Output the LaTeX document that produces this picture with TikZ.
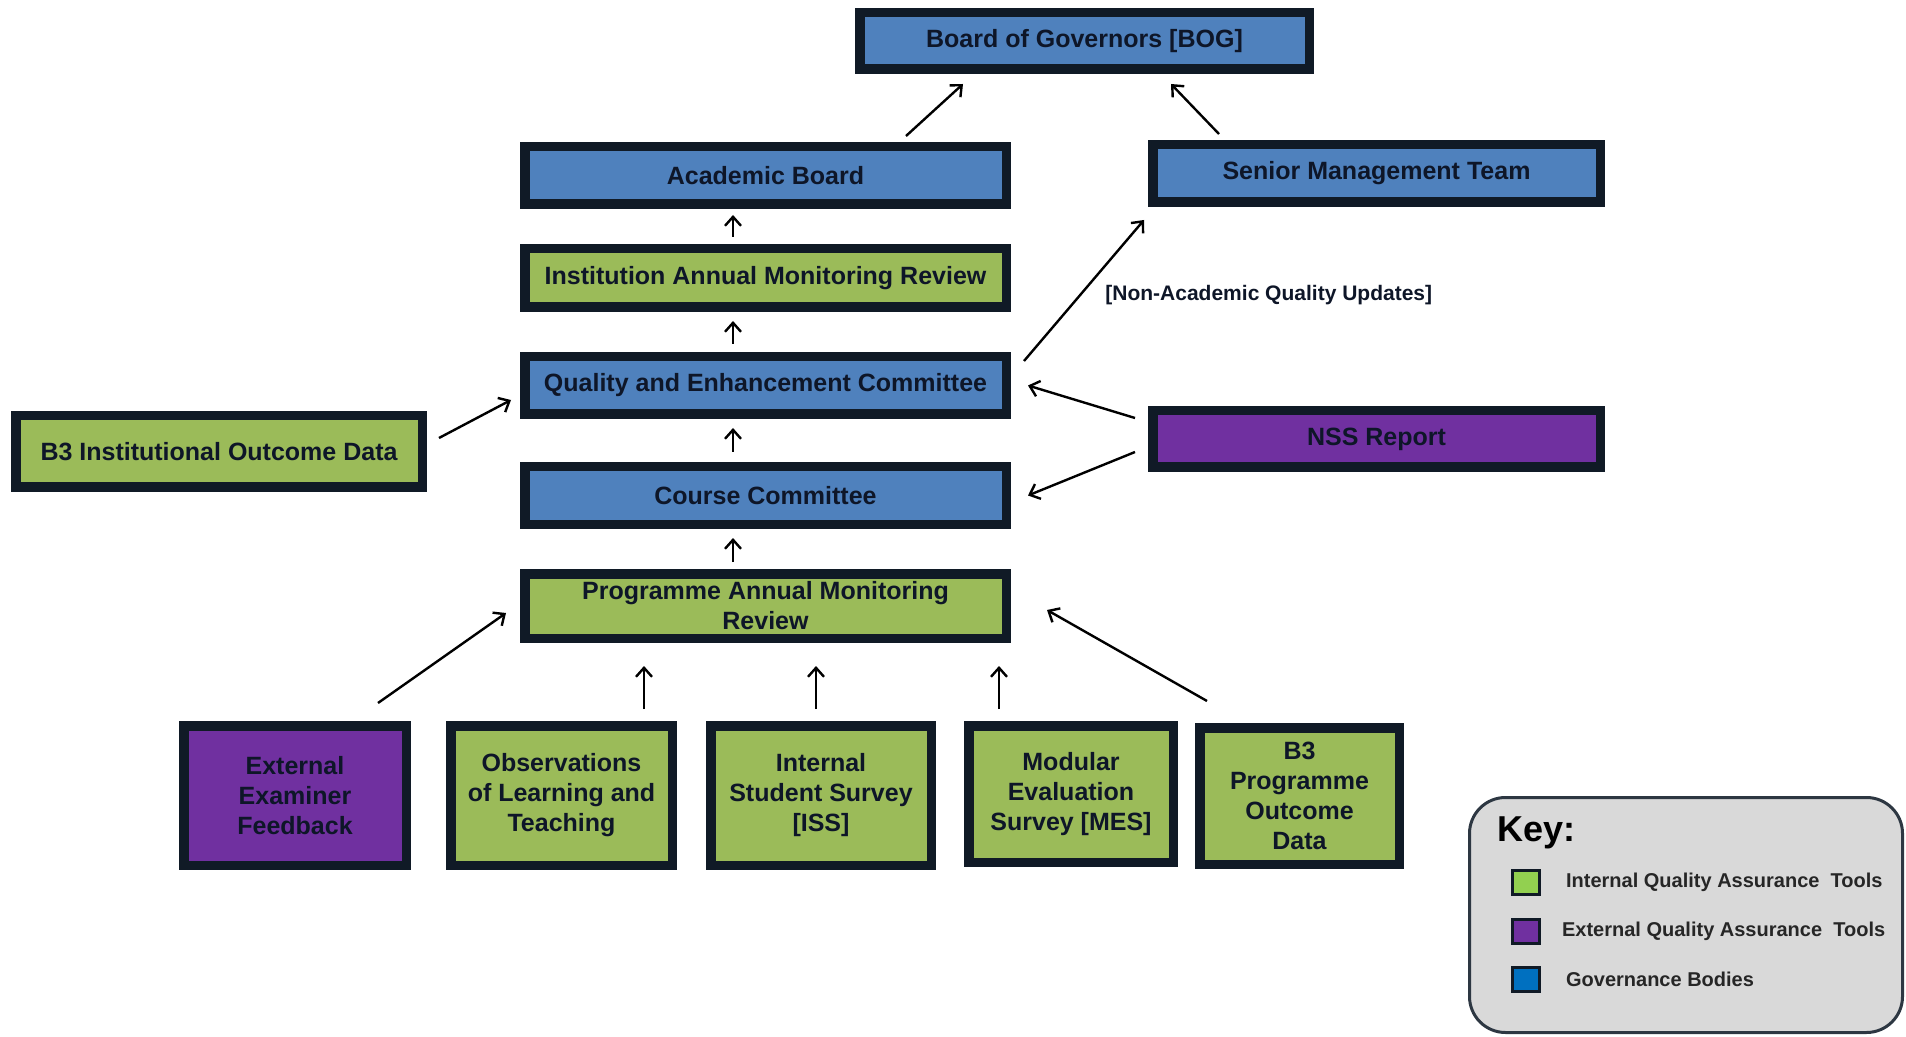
\documentclass[tikz,border=0pt]{standalone}
\usepackage{fontspec}
\setmainfont{Liberation Sans}
\usepackage{tikz}
\usetikzlibrary{arrows.meta}
\usetikzlibrary{positioning}
\usepackage{xcolor}
\definecolor{GovBlue}{RGB}{79,129,189}
\definecolor{IntGreen}{RGB}{155,187,89}
\definecolor{ExtPurple}{RGB}{112,48,160}
\definecolor{EdgeDark}{RGB}{16,26,38}
\definecolor{InkNavy}{RGB}{14,22,40}
\definecolor{KeyGrey}{RGB}{217,217,217}
\definecolor{KeyEdge}{RGB}{45,55,66}
\definecolor{KeyGreen}{RGB}{146,208,80}
\definecolor{KeyBlue}{RGB}{0,112,192}
\tikzset{
	>={Straight Barb[length=4.5pt,width=8pt]},
	flow/.style={black, line width=1.2pt, ->},
	wh/.style 2 args={minimum width=#1pt, minimum height=#2pt},
	box/.style={rectangle, draw=EdgeDark, line width=4.75pt, inner sep=2pt, align=center,
		text=InkNavy, font=\fontsize{12.5}{15}\selectfont\bfseries},
	govbox/.style={box, fill=GovBlue},
	inttool/.style={box, fill=IntGreen},
	exttool/.style={box, fill=ExtPurple},
	note/.style={text=InkNavy, inner sep=0pt, font=\fontsize{10.5}{12}\selectfont\bfseries},
	keyframe/.style={draw=KeyEdge, fill=KeyGrey, line width=1.5pt, rounded corners=18pt},
	swatch/.style={draw=EdgeDark, line width=1.2pt, minimum width=13.5pt, minimum height=12pt, inner sep=0pt},
	keytext/.style={text=black!85, inner sep=0pt, font=\fontsize{10}{12}\selectfont\bfseries},
}

\begin{document}
\begin{tikzpicture}[x=0.5pt, y=-0.5pt]
	\useasboundingbox (0,0) rectangle (1906,1037);
	
	% Governance bodies
	\node[govbox, wh={224.75}{28.25}] (bog) at (1084.5,41) {Board of Governors [BOG]};
	\node[govbox, wh={240.75}{28.75}] (ab) at (765.5,175.5) {Academic Board};
	\node[govbox, wh={223.75}{28.75}] (smt) at (1376.5,173.5) {Senior Management Team};
	\node[govbox, wh={240.75}{28.75}] (qec) at (765.5,385.5) {Quality and Enhancement Committee};
	\node[govbox, wh={240.75}{28.75}] (cc) at (765.5,495.5) {Course Committee};
	
	% Internal and external tools
	\node[inttool, wh={240.75}{29.25}] (iamr) at (765.5,278) {Institution Annual Monitoring Review};
	\node[inttool, wh={203.25}{35.75}] (b3inst) at (219,451.5) {B3 Institutional Outcome Data};
	\node[exttool, wh={223.75}{28.25}] (nss) at (1376.5,439) {NSS Report};
	\node[inttool, wh={240.75}{32.25}] (pamr) at (765.5,606) {Programme Annual Monitoring\\Review};
	
	% Bottom row
	\node[exttool, wh={111.25}{69.75}] (eef) at (295,795.5) {External\\Examiner\\Feedback};
	\node[inttool, wh={110.75}{69.75}] (olt) at (561.5,795.5) {Observations\\of Learning and\\Teaching};
	\node[inttool, wh={110.25}{69.75}] (iss) at (821,795.5) {Internal\\Student Survey\\{[ISS]}};
	\node[inttool, wh={102.25}{68.25}] (mes) at (1071,794) {Modular\\Evaluation\\Survey [MES]};
	\node[inttool, wh={99.75}{68.25}] (b3prog) at (1299.5,796) {B3\\Programme\\Outcome\\Data};
	
	% Reporting lines
	\draw[flow] ([shift={(140.5,-6)}]ab.north) -- ([shift={(-121.5,10)}]bog.south);
	\draw[flow] ([shift={(-157.5,-6)}]smt.north) -- ([shift={(86.5,10)}]bog.south);
	\draw[flow] ([shift={(-32.5,-7)}]iamr.north) -- ([shift={(-32.5,6)}]ab.south);
	\draw[flow] ([shift={(-32.5,-8)}]qec.north) -- ([shift={(-32.5,9)}]iamr.south);
	\draw[flow] ([shift={(-32.5,-10)}]cc.north) -- ([shift={(-32.5,9)}]qec.south);
	\draw[flow] ([shift={(-32.5,-7)}]pamr.north) -- ([shift={(-32.5,9)}]cc.south);
	\draw[flow] ([shift={(12,-13.5)}]b3inst.east) -- ([shift={(-9,14.5)}]qec.west);
	\draw[flow] ([shift={(13,-24.5)}]qec.east) -- ([shift={(-4,13)}]smt.south west);
	\node[note, anchor=west] (nonacad) at (1105,295) {[Non-Academic Quality Updates]};
	\draw[flow] ([shift={(-13,-21)}]nss.west) -- ([shift={(17,0)}]qec.east);
	\draw[flow] ([shift={(-13,13)}]nss.west) -- ([shift={(17,0)}]cc.east);
	
	% Inputs to the programme review
	\draw[flow] ([shift={(83,-18)}]eef.north) -- ([shift={(-14,7)}]pamr.west);
	\draw[flow] ([shift={(82.5,-12)}]olt.north) -- ([shift={(-121.5,23)}]pamr.south);
	\draw[flow] ([shift={(-5,-12)}]iss.north) -- ([shift={(50.5,23)}]pamr.south);
	\draw[flow] ([shift={(-72,-12)}]mes.north) -- ([shift={(233.5,23)}]pamr.south);
	\draw[flow] ([shift={(-92.5,-22)}]b3prog.north) -- ([shift={(36,4)}]pamr.east);
	
	% Key
	\node[keyframe, minimum width=216.5pt, minimum height=117.5pt] (key) at (1686,915) {};
	\node[anchor=west, inner sep=0pt, font=\fontsize{18}{20}\selectfont\bfseries] (keytitle) at (1497,833) {Key:};
	\node[swatch, fill=KeyGreen] (swint) at (1526,882.5) {};
	\node[swatch, fill=ExtPurple] (swext) at (1526,931.5) {};
	\node[swatch, fill=KeyBlue] (swgov) at (1526,979.5) {};
	\node[keytext, right=12.5pt of swint] (kint) {Internal Quality Assurance\ \ Tools};
	\node[keytext, right=10.5pt of swext] (kext) {External Quality Assurance\ \ Tools};
	\node[keytext, right=12.5pt of swgov] (kgov) {Governance Bodies};
	
\end{tikzpicture}
\end{document}
